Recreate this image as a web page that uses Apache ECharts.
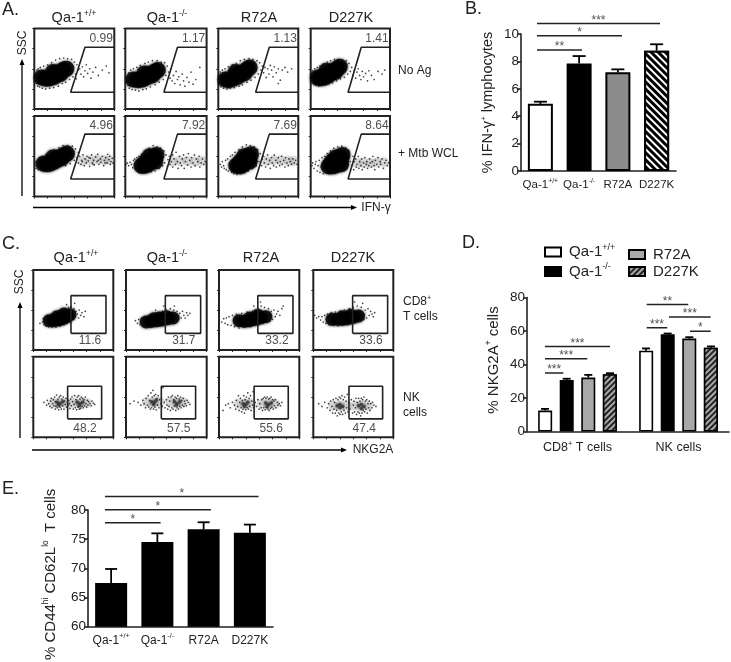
<!DOCTYPE html>
<html><head><meta charset="utf-8">
<style>html,body{margin:0;padding:0;background:#fff}#c{width:731px;height:662px}</style>
<script src="https://cdn.jsdelivr.net/npm/echarts@6/dist/echarts.min.js"></script>
</head><body><div id="c"></div>
<script>
// ---------- data ----------
const genotypes = ['Qa-1+/+','Qa-1-/-','R72A','D227K'];
// B
const bMeans = [4.9,7.85,7.2,8.78];
const bTops  = [5.06,8.39,7.42,9.25];
const bSig = [[-0.087,1.074,8.83,'**'],[-0.087,2.106,9.87,'*'],[-0.087,3.087,10.77,'***']];
// D
const dCats = ['CD8+ T cells','NK cells'];
const dWT = [12.5,48.2], dKO=[30.8,58], dR=[32.2,55.5], dK=[34.2,50];
const dWTTop=[13.5,49.6], dKOTop=[31.5,58.5], dRTop=[33.8,56.3], dKTop=[34.8,50.8];
const dSig = [[-0.322,-0.14,34.9,'***'],[-0.322,0.097,43.5,'***'],[-0.322,0.322,50.7,'***'],
  [0.685,0.889,62,'***'],[0.685,1.097,75.8,'**'],[0.906,1.319,68.4,'***'],[1.114,1.319,59.9,'*']];
// E
const eMeans=[67.5,74.5,76.7,76.1];
const eTops=[69.9,76,77.9,77.5];
const eSig=[[-0.133,1.07,77.8,'*'],[-0.133,2.157,80.05,'*'],[-0.133,3.187,82.3,'*']];
// A flow gates and values
const aVals=[['0.99','1.17','1.13','1.41'],['4.96','7.92','7.69','8.64']];
const aGateTop=[76,77,76.5,76.5], aGateBottom=[54.5,57,56,56.5];
// C flow gates and values
const cVals=[['11.6','31.7','33.2','33.6'],['48.2','57.5','55.6','47.4']];
const cGateX=[[[56.5,109],[58.5,111],[58,110.5],[59,111.5]],[[51.5,102.5],[52.5,103.5],[52.5,103.5],[53.5,104]]];
const cLabelX=[[85,86,86.5,86.5],[77.5,78.5,78,76.5]];
// A dots, row 1
const a1Core=[[11,47],[18,45],[24,46],[30,48],[34,54],[39,52],[43,58],[48,60],[28,55]];
const a1Dots=[[1,44],[2,52],[3,38],[4,58],[5,34],[6,60],[8,33],[9,62],[12,31],[14,64],[17,30],[20,66],[23,31],[26,69],[29,32],[32,73],[36,34],[38,75],[42,38],[44,76],[47,40],[50,75],[53,44],[56,74],[58,48],[60,70],[62,52],[64,66],[66,58],[63,45],[68,60],[70,52],[72,63],[74,48],[76,57],[78,66],[80,53],[83,60],[85,46],[88,55],[92,62],[96,50],[102,58],[108,64],[112,54]];
const a2Core=[[12,44],[19,43],[25,44],[31,47],[35,52],[40,50],[44,56],[48,58],[28,53]];
const a2Dots=[[2,40],[3,48],[4,35],[5,54],[6,31],[8,58],[10,29],[12,60],[15,28],[17,62],[20,27],[22,65],[26,29],[29,68],[31,30],[34,70],[37,33],[40,72],[44,36],[47,72],[50,40],[53,70],[56,44],[58,69],[60,50],[62,64],[64,55],[66,46],[67,60],[69,42],[71,50],[73,38],[75,56],[77,44],[79,48],[81,36],[84,52],[86,42],[88,34],[91,47],[94,40],[97,55],[100,37],[104,44],[110,62]];
const a3Core=[[11,44],[16,43],[22,45],[29,48],[34,54],[39,53],[43,59],[47,62],[26,55]];
const a3Dots=[[1,42],[1,50],[2,36],[3,55],[4,33],[6,58],[8,31],[10,60],[13,30],[15,63],[18,31],[21,66],[24,32],[27,68],[31,34],[33,72],[36,36],[39,74],[43,40],[46,75],[49,43],[52,74],[55,47],[58,72],[60,52],[62,69],[64,58],[66,64],[68,54],[70,62],[72,47],[74,60],[76,52],[78,65],[80,58],[82,48],[84,63],[87,54],[90,60],[93,43],[96,58],[100,62],[104,55],[110,60],[90,38]];
const a4Core=[[11,47],[15,46],[21,47],[27,50],[32,56],[37,55],[40,60],[44,63],[24,57]];
const a4Dots=[[1,44],[1,52],[2,38],[3,57],[5,36],[6,60],[8,35],[10,62],[12,34],[14,64],[17,35],[19,67],[22,36],[25,70],[28,38],[30,72],[33,39],[36,74],[39,42],[42,74],[45,45],[48,73],[51,47],[54,72],[56,52],[58,68],[60,56],[62,62],[64,50],[66,58],[68,46],[70,55],[72,60],[74,50],[76,44],[78,56],[80,48],[83,53],[86,42],[88,57],[92,50],[96,44],[102,56],[108,52],[112,58]];
// A dots, row 2
const a5Core=[[14,49],[20,48],[26,50],[32,53],[36,58],[41,57],[45,62],[49,64],[28,58]];
const a5Dots=[[1,46],[2,51],[3,42],[5,55],[6,40],[8,58],[10,39],[12,60],[16,38],[18,63],[21,39],[24,67],[28,40],[30,70],[34,42],[37,73],[40,45],[43,76],[47,46],[50,76],[54,49],[57,75],[60,54],[62,71],[64,58],[66,66],[66,50],[68,60],[70,48],[71,54],[73,62],[75,46],[76,56],[78,50],[79,60],[81,53],[83,45],[84,57],[86,62],[87,50],[89,54],[90,47],[92,59],[94,52],[95,63],[97,48],[99,56],[100,51],[102,60],[104,46],[105,54],[107,58],[109,50],[110,63],[112,55],[114,48],[115,52],[117,57],[118,50],[72,52],[82,58],[88,48],[96,54],[106,50],[113,60]];
const a6Core=[[24,46],[29,46],[34,48],[38,53],[42,58],[46,62],[36,60],[44,52],[30,52]];
const a6Dots=[[1,48],[3,50],[5,46],[7,51],[9,48],[11,43],[12,54],[14,42],[14,56],[16,40],[17,58],[19,36],[20,60],[22,35],[24,63],[27,35],[30,66],[33,36],[35,72],[38,37],[41,76],[44,38],[47,74],[50,42],[52,72],[55,46],[57,68],[58,50],[60,62],[62,45],[63,55],[65,60],[66,48],[68,52],[70,44],[70,62],[72,56],[74,48],[75,66],[77,52],[78,42],[80,60],[81,50],[83,46],[84,56],[86,62],[87,42],[89,52],[90,58],[92,47],[93,64],[95,54],[97,44],[98,58],[100,50],[102,62],[103,46],[105,56],[107,52],[109,60],[110,44],[112,50],[114,56],[116,48],[118,52]];
const a7Core=[[27,46],[32,45],[37,47],[41,52],[45,58],[49,63],[39,60],[47,52],[33,52]];
const a7Dots=[[3,48],[5,44],[6,52],[8,46],[9,42],[11,54],[12,40],[14,56],[15,38],[17,50],[18,60],[20,36],[21,62],[23,34],[25,66],[28,33],[31,70],[34,34],[36,74],[39,35],[42,77],[45,38],[48,76],[51,42],[54,74],[57,46],[59,70],[61,52],[63,64],[65,46],[66,56],[68,60],[69,50],[71,44],[72,56],[74,62],[75,48],[77,54],[78,42],[80,58],[81,50],[83,46],[84,62],[86,54],[87,44],[89,50],[90,58],[92,46],[93,52],[95,60],[96,48],[98,54],[100,44],[101,58],[103,50],[105,46],[106,56],[108,52],[110,48],[112,56],[114,50],[116,54],[118,48]];
const a8Core=[[27,45],[32,45],[37,46],[42,50],[46,56],[48,62],[38,58],[46,48],[32,52]];
const a8Dots=[[2,46],[3,50],[5,42],[7,48],[8,52],[10,38],[11,46],[13,54],[14,36],[16,44],[17,58],[19,34],[21,60],[23,36],[25,64],[28,34],[30,68],[33,36],[35,72],[38,38],[41,74],[44,40],[47,75],[50,40],[53,72],[55,42],[58,68],[60,52],[62,46],[64,60],[65,40],[66,52],[68,56],[69,44],[70,48],[72,60],[73,42],[74,52],[76,46],[77,56],[78,40],[80,50],[81,44],[82,58],[84,48],[85,52],[86,42],[88,46],[89,56],[90,50],[92,44],[93,52],[94,60],[96,46],[97,40],[98,54],[100,48],[102,58],[103,44],[105,52],[106,48],[108,56],[110,42],[112,50],[114,54],[116,46],[118,50]];
// soft haze of the IFN-gamma positive cloud, + Mtb row
const a5Haze=[[72,53],[83,54],[94,55],[105,54],[113,54]];
const a6Haze=[[70,52],[81,53],[92,53],[103,52],[113,53]];
const a7Haze=[[72,53],[83,54],[94,54],[105,53],[113,53]];
const a8Haze=[[70,50],[80,50],[90,50],[100,51],[111,51]];
// C dots, CD8 row
const c1Core=[[24,44],[31,44],[38,45],[44,47],[50,50],[55,53],[46,54],[36,50]];
const c1Dots=[[14,42],[15,47],[16,38],[18,50],[19,36],[21,52],[23,35],[26,54],[28,34],[31,57],[34,34],[37,58],[40,36],[42,60],[46,38],[48,62],[51,40],[53,64],[56,42],[57,65],[60,46],[61,62],[63,50],[64,58],[66,54],[68,48],[69,60],[71,52],[73,56],[76,50],[62,70],[50,68],[10,40],[78,58]];
const c2Core=[[30,42],[38,43],[46,44],[54,45],[62,47],[70,48],[50,48],[42,47],[60,50]];
const c2Dots=[[14,44],[17,40],[19,46],[21,38],[23,48],[26,36],[28,50],[31,35],[34,52],[37,34],[40,54],[44,36],[47,56],[51,36],[54,58],[58,38],[60,60],[63,40],[66,62],[68,42],[71,60],[74,44],[76,58],[78,46],[80,55],[82,48],[84,58],[86,52],[88,48],[90,56],[92,52],[95,55],[72,66],[56,66],[44,60]];
const c3Core=[[30,44],[38,43],[46,44],[54,46],[62,48],[70,50],[58,52],[46,48]];
const c3Dots=[[4,42],[7,47],[9,40],[11,48],[13,38],[15,50],[18,37],[20,52],[23,35],[26,54],[30,33],[34,55],[38,34],[42,57],[46,35],[50,58],[54,37],[58,62],[60,38],[63,66],[66,40],[68,64],[72,42],[74,62],[76,44],[78,58],[80,46],[82,60],[84,50],[86,54],[88,58],[91,52],[94,62],[96,66],[62,72],[52,66]];
const c4Core=[[28,46],[36,46],[44,46],[52,47],[60,49],[68,51],[56,52],[44,50]];
const c4Dots=[[2,52],[5,48],[8,50],[11,45],[13,50],[15,42],[17,52],[19,40],[21,54],[24,38],[27,56],[30,37],[33,57],[37,36],[40,58],[44,37],[47,60],[51,38],[54,62],[58,40],[60,64],[64,42],[66,66],[70,44],[72,64],[76,46],[78,60],[80,48],[82,62],[84,52],[86,58],[88,54],[90,50],[92,56],[62,72],[74,70]];
// C dots, NK row
const n1Core=[[36,52],[40,50],[44,53],[38,48],[66,52],[70,50],[74,52],[69,47]];
const n1Dots=[[16,52],[20,48],[21,55],[23,50],[25,46],[26,54],[27,58],[28,44],[29,50],[30,56],[31,47],[32,60],[33,42],[33,53],[34,46],[35,63],[36,44],[37,57],[38,41],[39,60],[40,45],[41,62],[42,42],[43,57],[44,47],[45,60],[46,42],[47,54],[48,49],[49,58],[50,45],[51,52],[52,48],[53,55],[54,50],[55,43],[56,57],[57,47],[58,60],[59,53],[60,42],[61,49],[62,62],[63,44],[64,56],[65,41],[66,60],[67,45],[68,62],[69,42],[70,57],[71,43],[72,60],[73,46],[74,58],[75,44],[76,56],[77,47],[78,60],[79,50],[80,45],[81,55],[82,48],[83,53],[85,50],[87,47],[88,54],[90,51],[92,49]];
const n2Core=[[38,53],[42,52],[45,55],[41,49],[72,53],[76,50],[80,53],[75,48]];
const n2Dots=[[6,50],[12,54],[18,52],[22,48],[25,55],[27,50],[29,44],[30,58],[32,48],[33,62],[34,45],[35,55],[36,42],[37,66],[38,44],[39,60],[40,70],[41,42],[42,62],[43,45],[44,64],[45,41],[46,58],[47,48],[48,62],[49,44],[50,56],[52,50],[54,46],[55,74],[57,52],[58,44],[60,56],[61,48],[62,42],[63,60],[64,46],[65,54],[66,40],[67,60],[68,44],[69,62],[70,42],[71,56],[72,46],[73,60],[74,40],[75,58],[76,44],[77,62],[78,42],[79,57],[80,46],[81,60],[82,44],[83,55],[84,48],[85,58],[86,46],[87,54],[88,50],[90,47],[91,55],[93,52],[95,49]];
const n3Core=[[36,50],[40,49],[43,52],[38,46],[70,51],[74,49],[78,51],[72,46]];
const n3Dots=[[6,40],[10,48],[14,50],[17,44],[20,52],[23,48],[25,42],[26,55],[28,46],[29,62],[30,40],[31,52],[32,58],[33,44],[34,38],[35,55],[36,42],[37,62],[38,36],[39,56],[40,41],[41,60],[42,44],[43,66],[44,42],[45,58],[46,46],[47,62],[48,40],[49,54],[50,48],[51,68],[52,44],[54,52],[56,46],[58,56],[60,42],[61,50],[63,44],[64,56],[65,40],[66,58],[67,44],[68,60],[69,41],[70,58],[71,44],[72,60],[73,42],[74,57],[75,40],[76,58],[77,43],[78,60],[79,45],[80,56],[81,42],[82,54],[83,47],[84,56],[85,44],[87,52],[88,48],[90,50],[92,47],[94,52]];
const n4Core=[[36,47],[40,49],[44,46],[40,44],[68,47],[72,49],[76,46],[72,43]];
const n4Dots=[[8,50],[13,46],[17,52],[21,44],[23,50],[25,40],[26,54],[28,46],[29,36],[30,56],[31,42],[32,52],[33,36],[34,58],[35,40],[36,32],[37,56],[38,36],[39,60],[40,34],[41,58],[42,38],[43,62],[44,34],[45,56],[46,40],[47,60],[48,36],[49,54],[50,44],[51,64],[52,38],[53,52],[55,42],[57,56],[59,36],[60,48],[61,54],[62,38],[63,44],[64,58],[65,34],[66,52],[67,38],[68,58],[69,36],[70,54],[71,32],[72,58],[73,36],[74,56],[75,40],[76,60],[77,38],[78,54],[79,42],[80,56],[81,36],[82,50],[83,44],[84,54],[85,40],[86,50],[88,44],[89,52],[91,48],[94,46]];
const n1Haze=[[30,51],[40,51],[49,51],[60,51],[70,51],[80,51]];
const n2Haze=[[31,52],[41,52],[50,52],[66,52],[76,52],[85,52]];
const n3Haze=[[29,50],[39,50],[48,50],[64,50],[74,50],[84,50]];
const n4Haze=[[30,47],[40,47],[50,47],[62,47],[72,47],[82,47]];

const INK='#222', FONT='"Liberation Sans",Arial,sans-serif';
const aFrames=[[34.3,80],[125.3,81.3],[218.3,80],[310.7,79.3]], aRows=[[28.5,80.5],[116,80.5]];
const cFrames=[[33.3,80],[126,80.7],[219,80.3],[313.3,80]], cRows=[[270,80],[356.7,80.6]];
const aCores=[[a1Core,a2Core,a3Core,a4Core],[a5Core,a6Core,a7Core,a8Core]];
const aDots=[[a1Dots,a2Dots,a3Dots,a4Dots],[a5Dots,a6Dots,a7Dots,a8Dots]];
const aHazes=[[[],[],[],[]],[a5Haze,a6Haze,a7Haze,a8Haze]];
const cCores=[[c1Core,c2Core,c3Core,c4Core],[n1Core,n2Core,n3Core,n4Core]];
const cDots=[[c1Dots,c2Dots,c3Dots,c4Dots],[n1Dots,n2Dots,n3Dots,n4Dots]];
const cHazes=[[[],[],[],[]],[n1Haze,n2Haze,n3Haze,n4Haze]];

const grid=[],xAxis=[],yAxis=[],series=[];
function flowPanel(f,r,core,dots,haze,coreSize,coreColor,coreBlur,gate,labelPt,labelText,labelPos){
  const i=grid.length;
  grid.push({left:f[0],width:f[1],top:r[0],height:r[1],show:true,borderColor:INK,borderWidth:2,backgroundColor:'#fff'});
  const ax=(iv)=>({gridIndex:i,type:'value',min:0,max:120,interval:iv,axisLine:{show:false},splitLine:{show:false},axisLabel:{show:false},axisTick:{show:true,length:2,lineStyle:{color:INK,width:1}}});
  xAxis.push(ax(20));yAxis.push(ax(30));
  const base={xAxisIndex:i,yAxisIndex:i,silent:true,animation:false};
  if(haze.length)series.push({...base,type:'scatter',data:haze,symbolSize:10,itemStyle:{color:'rgba(120,120,120,0.3)',shadowBlur:5,shadowColor:'rgba(120,120,120,0.4)'},z:1});
  series.push({...base,type:'scatter',data:core,symbolSize:coreSize,itemStyle:{color:coreColor,shadowBlur:coreBlur,shadowColor:coreColor},z:2});
  series.push({...base,type:'scatter',data:dots,symbolSize:1.7,itemStyle:{color:'#111'},z:2});
  series.push({...base,type:'line',data:gate,showSymbol:false,symbol:'none',clip:false,lineStyle:{color:INK,width:1.6},z:3});
  series.push({...base,type:'scatter',data:[labelPt],symbolSize:0,z:4,label:{show:true,position:labelPos,distance:0,formatter:labelText,fontFamily:FONT,fontSize:12,color:INK}});
}
aRows.forEach((r,ri)=>aFrames.forEach((f,ci)=>{
  const t=aGateTop[ci],b=aGateBottom[ci];
  const gate=ri==0?[[120,92],[t,92],[b,25],[120,25]]:[[120,93],[t,93],[b,26],[120,26]];
  flowPanel(f,r,aCores[ri][ci],aDots[ri][ci],aHazes[ri][ci],16,'#000',3,gate,[118,105],aVals[ri][ci],'left');
}));
cRows.forEach((r,ri)=>cFrames.forEach((f,ci)=>{
  const [l,h]=cGateX[ri][ci];
  const ys=ri==0?[25,81.5]:[27.5,76];
  const gate=[[l,ys[0]],[h,ys[0]],[h,ys[1]],[l,ys[1]],[l,ys[0]]];
  flowPanel(f,r,cCores[ri][ci],cDots[ri][ci],cHazes[ri][ci],ri==0?13:3.5,ri==0?'#000':'#333',ri==0?3:3,gate,[cLabelX[ri][ci],13.5],cVals[ri][ci],'inside');
}));

// ---------- bar helpers ----------
function richStyle(size,supSize){return {t:{fontFamily:FONT,color:INK,fontSize:size,lineHeight:size+3},s:{fontFamily:FONT,color:INK,fontSize:supSize,verticalAlign:'top',lineHeight:size+3}};}
function supFmt(v){
  if(v==='Qa-1+/+')return '{t|Qa-1}{s|+/+}';
  if(v==='Qa-1-/-')return '{t|Qa-1}{s|-/-}';
  if(v==='CD8+ T cells')return '{t|CD8}{s|+}{t| T cells}';
  return '{t|'+v+'}';
}
function barGrid(cfg){
  const i=grid.length;
  grid.push(cfg.grid);
  xAxis.push({gridIndex:i,type:'category',data:cfg.cats,boundaryGap:true,axisLine:{lineStyle:{color:INK,width:1.6}},axisTick:{alignWithLabel:true,length:4,lineStyle:{color:INK,width:1.6}},splitLine:{show:false},axisLabel:{margin:cfg.labelMargin,interval:0,formatter:supFmt,rich:richStyle(cfg.xFont,cfg.xFont*0.6)}});
  const xv=xAxis.length;
  xAxis.push({gridIndex:i,type:'value',show:false,min:-0.5,max:cfg.cats.length-0.5,splitLine:{show:false}});
  yAxis.push({gridIndex:i,type:'value',min:cfg.y[0],max:cfg.y[1],interval:cfg.y[2],splitLine:{show:false},
    axisLine:{show:true,onZero:false,lineStyle:{color:INK,width:1.6}},axisTick:{show:true,length:4,lineStyle:{color:INK,width:1.6}},
    axisLabel:{margin:2,fontFamily:FONT,fontSize:13.5,color:INK},
    name:cfg.yName,nameLocation:'middle',nameGap:cfg.nameGap,nameRotate:90,nameTextStyle:{rich:richStyle(cfg.nameFont,cfg.nameFont*0.55),padding:cfg.namePad||0}});
  const yi=yAxis.length-1;
  return {xc:xv-1,xv,yi};
}
function errSeries(a,data,cap){
  series.push({type:'custom',xAxisIndex:a.xv,yAxisIndex:a.yi,silent:true,animation:false,z:1,data,encode:{x:0,y:[1,2]},
    renderItem(p,api){
      const x=api.value(0),b=api.coord([x,api.value(1)]),t=api.coord([x,api.value(2)]);
      const st={stroke:'#000',lineWidth:1.8};
      return {type:'group',children:[
        {type:'line',shape:{x1:t[0],y1:b[1],x2:t[0],y2:t[1]},style:st},
        {type:'line',shape:{x1:t[0]-cap,y1:t[1],x2:t[0]+cap,y2:t[1]},style:st}]};
    }});
}
function sigSeries(a,list,font,dist){
  list.forEach(s=>{
    series.push({type:'line',xAxisIndex:a.xv,yAxisIndex:a.yi,silent:true,animation:false,clip:false,symbol:'none',showSymbol:false,z:3,
      lineStyle:{color:INK,width:1.5},data:[[s[0],s[2]],[s[1],s[2]]]});
    series.push({type:'scatter',xAxisIndex:a.xv,yAxisIndex:a.yi,silent:true,animation:false,clip:false,symbolSize:0,z:3,
      data:[[(s[0]+s[1])/2,s[2]]],label:{show:true,position:'top',distance:dist,formatter:s[3],fontFamily:FONT,fontSize:font,color:INK}});
  });
}
const hatchB={symbol:'rect',color:'#000',backgroundColor:'#fff',dashArrayX:[1,0],dashArrayY:[2.5,2],rotation:Math.PI/4,symbolSize:1};
const hatchD={symbol:'rect',color:'#222',backgroundColor:'#aaa',dashArrayX:[1,0],dashArrayY:[1.5,1.5],rotation:-Math.PI/4,symbolSize:1};

// ---------- B ----------
const bA=barGrid({grid:{left:521,width:155,top:34,height:137},cats:genotypes,y:[0,10,2],labelMargin:7,xFont:11.5,nameFont:14.5,nameGap:24,
  yName:'{t|% IFN-γ}{s|+}{t| lymphocytes}'});
const bBorder={borderColor:'#000',borderWidth:2,borderJoin:'miter'};
series.push({type:'bar',name:'IFN-γ+',xAxisIndex:bA.xc,yAxisIndex:bA.yi,barWidth:25,z:2,animation:false,silent:true,
  data:[
   {value:bMeans[0],itemStyle:{color:'#fff',...bBorder}},
   {value:bMeans[1],itemStyle:{color:'#000',...bBorder}},
   {value:bMeans[2],itemStyle:{color:'#8c8c8c',...bBorder}},
   {value:bMeans[3],itemStyle:{color:'#fff',...bBorder,decal:hatchB}}]});
errSeries(bA,bMeans.map((m,i)=>[i,m,bTops[i]]),6.5);
sigSeries(bA,bSig,12,-3);

// ---------- D ----------
const dA=barGrid({grid:{left:527,width:202,top:297.5,height:134},cats:dCats,y:[0,80,20],labelMargin:8,xFont:12.5,nameFont:15,nameGap:24,
  yName:'{t|% NKG2A}{s|+}{t| cells}',namePad:[0,0,0,9]});
const dBorder={borderColor:'#000',borderWidth:1.6,borderJoin:'miter'};
const dStyles=[{color:'#fff',...dBorder},{color:'#000',...dBorder},{color:'#a8a8a8',...dBorder},{color:'#999',...dBorder,decal:hatchD}];
[dWT,dKO,dR,dK].forEach((vals,i)=>{
  series.push({type:'bar',name:genotypes[i],xAxisIndex:dA.xc,yAxisIndex:dA.yi,data:vals,barWidth:14,barGap:'54%',z:2,animation:false,silent:true,itemStyle:dStyles[i]});
});
const dTops=[dWTTop,dKOTop,dRTop,dKTop], dVals=[dWT,dKO,dR,dK];
dVals.forEach((vals,i)=>{
  errSeries(dA,vals.map((m,g)=>[g+(i-1.5)*0.2143,m,dTops[i][g]]),4);
});
sigSeries(dA,dSig,12,-3);

// ---------- E ----------
const eA=barGrid({grid:{left:88,width:185,top:510,height:123},cats:genotypes,y:[60,80,5],labelMargin:6,xFont:12,nameFont:15,nameGap:28,
  yName:'{t|% CD44}{s|hi}{t| CD62L}{s|lo}{t|  T cells}',namePad:[0,12,0,0]});
series.push({type:'bar',name:'CD44hi',xAxisIndex:eA.xc,yAxisIndex:eA.yi,data:eMeans,barWidth:32,z:2,animation:false,silent:true,itemStyle:{color:'#000'}});
errSeries(eA,eMeans.map((m,i)=>[i,m,eTops[i]]),6);
sigSeries(eA,eSig,12,-3);

// ---------- text and arrows ----------
function txt(x,y,text,size,opt){
  opt=opt||{};
  return {type:'text',x,y,rotation:opt.rot||0,z:10,silent:true,style:{text,fontFamily:FONT,fontSize:size,fill:INK,align:opt.align||'center',verticalAlign:'middle',rich:richStyle(size,size*0.6)}};
}
const hd=(v)=>supFmt(v);
function arrow(x1,y1,x2,y2){
  const h=x1!==x2;
  const pts=h?[[x2+5,y2],[x2-1,y2-2.5],[x2-1,y2+2.5]]:[[x2,y2-5],[x2-2.5,y2+1],[x2+2.5,y2+1]];
  return [{type:'line',silent:true,z:10,shape:{x1,y1,x2,y2},style:{stroke:'#000',lineWidth:1.3}},{type:'polygon',silent:true,z:10,shape:{points:pts},style:{fill:'#000'}}];
}
const g=[];
[['A.',2,10],['B.',465,9],['C.',2,244],['D.',462,243],['E.',2,489]].forEach(p=>g.push(txt(p[1],p[2],p[0],18,{align:'left'})));
[74,167,259,351].forEach((x,i)=>g.push(txt(x,18,hd(genotypes[i]),14.5)));
[76,167,261,353].forEach((x,i)=>g.push(txt(x,258,hd(genotypes[i]),14.5)));
g.push(txt(23,43,'SSC',12,{rot:Math.PI/2}),txt(20,282,'SSC',12,{rot:Math.PI/2}));
g.push(txt(376,208,'IFN-γ',12),txt(373,450,'NKG2A',12));
g.push(txt(398,71,'No Ag',12,{align:'left'}),txt(398,154,'+ Mtb WCL',12,{align:'left'}));
g.push(txt(403,302,'{t|CD8}{s|+}',12,{align:'left'}),txt(403,317,'T cells',12,{align:'left'}),txt(403,398,'NK',12,{align:'left'}),txt(403,413,'cells',12,{align:'left'}));
g.push(...arrow(33,207.5,352,207.5),...arrow(22,196,22,64),...arrow(32,450,342,450),...arrow(20,438,20,307));

const legendBase={orient:'vertical',icon:'rect',itemWidth:16,itemHeight:9,selectedMode:false,formatter:supFmt,padding:0,textStyle:{rich:richStyle(15,9),padding:[0,0,0,3]}};
const chart=echarts.init(document.getElementById('c'),null,{renderer:'canvas'});
chart.setOption({animation:false,backgroundColor:'#fff',grid,xAxis,yAxis,series,graphic:g,tooltip:{show:false},
  legend:[{...legendBase,data:genotypes.slice(0,2),left:544,top:243,itemGap:3},{...legendBase,data:genotypes.slice(2),left:628,top:247,itemGap:2}]});
</script></body></html>
